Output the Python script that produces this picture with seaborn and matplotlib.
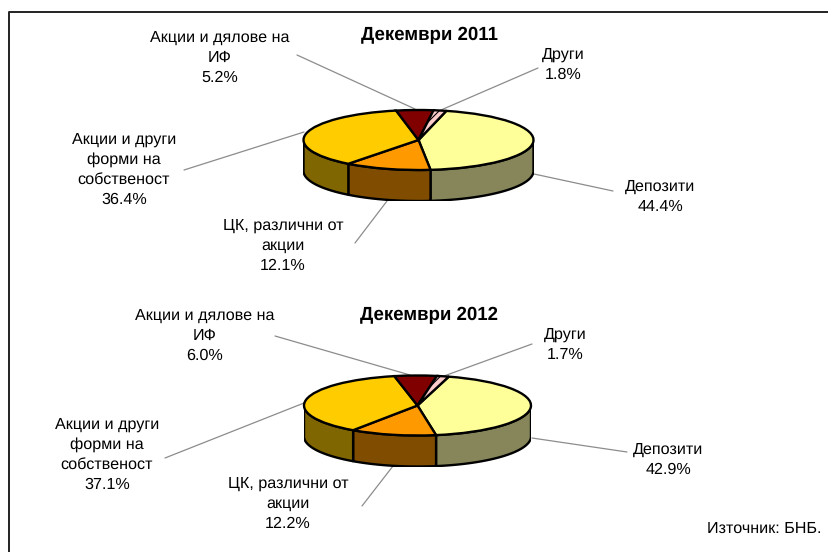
import numpy as np
import matplotlib
matplotlib.use("Agg")
import matplotlib.pyplot as plt
import seaborn as sns

W, H = 829, 552

# данни
segments = ["Депозити", "ЦК, различни от\nакции", "Акции и други\nформи на\nсобственост",
            "Акции и дялове на\nИФ", "Други"]
values_2011 = [44.4, 12.1, 36.4, 5.2, 1.8]
values_2012 = [42.9, 12.2, 37.1, 6.0, 1.7]
title_2011 = "Декември 2011"
title_2012 = "Декември 2012"
source = "Източник: БНБ."

top_colors = ["#FFFF99", "#FF9900", "#FFCC00", "#800000", "#FFCCCC"]
side_colors = ["#86865A", "#804D00", "#806600", "#400000", "#806666"]

sns.set_theme(style="white")
plt.rcParams['font.family'] = ['Liberation Sans', 'DejaVu Sans']
plt.rcParams['text.hinting'] = 'no_hinting'
plt.rcParams['hatch.linewidth'] = 0.8

fig = plt.figure(figsize=(W / 100, H / 100), dpi=100)
canvas = fig.add_axes([0, 0, 1, 1])
canvas.set_xlim(0, W)
canvas.set_ylim(H, 0)
canvas.axis("off")

# рамка (долу и вдясно е отрязана)
canvas.plot([9, 9, 829], [552, 12, 12], color="#222222", lw=1.4)


def draw_pie(vals, start, cx, cy, rx, ry, depth):
    # оста покрива елипсата + страничната стена, затова pie-то се сплесква от скалите
    ax = fig.add_axes([(cx - rx) / W, 1 - (cy + ry + depth) / H, 2 * rx / W, (2 * ry + depth) / H])
    ax.axis("off")
    d = depth / ry
    share = np.array(vals) / np.sum(vals) * 360
    edges = start + np.concatenate([[0], np.cumsum(share)])
    # странична стена - само видимата част (90..270 по часовника от горе)
    for i in range(len(vals)):
        a0, a1 = max(edges[i], 90), min(edges[i + 1], 270)
        if a1 <= a0:
            continue
        t = np.radians(np.linspace(a0, a1, 60))
        x, y = np.sin(t), np.cos(t)
        ax.fill(np.r_[x, x[::-1]], np.r_[y, y[::-1] - d], facecolor=side_colors[i],
                edgecolor="black", lw=1.7, joinstyle="round")
    wedges, _ = ax.pie(vals, colors=top_colors, startangle=90 - start, counterclock=False, radius=1,
                       wedgeprops=dict(edgecolor="black", linewidth=1.7))
    wedges[-1].set_hatch("////")
    ax.set_aspect("auto")
    ax.set_xlim(-1, 1)
    ax.set_ylim(-1 - d, 1)


draw_pie(values_2011, 14, 418.5, 140, 115, 30, 31)
draw_pie(values_2012, 16, 417.5, 405.5, 113.5, 30, 31)

# водещи линии
leaders = [
    ((297, 55), (415, 109)), ((538, 68), (441, 110)), ((304, 132), (184, 170)),
    ((387, 201), (355, 243)), ((534, 174), (613, 191)),
    ((275, 336), (410, 375)), ((532, 344), (444, 376)), ((304, 403), (165, 458)),
    ((393, 466), (362, 506)), ((532, 438), (627, 452)),
]
for p, q in leaders:
    canvas.plot([p[0], q[0]], [p[1], q[1]], color="#8C8C8C", lw=0.9, zorder=0)

fs = 11.6


def labels(vals, pos):
    for name, v, (x, y) in zip(segments, vals, pos):
        canvas.text(x, y, f"{name}\n{v:.1f}%", ha="center", va="center", fontsize=fs,
                    color="black", linespacing=1.45)


labels(values_2011, [(660, 197), (283, 246), (124, 170), (220, 58), (563, 65)])
labels(values_2012, [(668, 460), (288, 504), (107, 455), (205, 336), (565, 345)])

canvas.text(429, 35, title_2011, ha="center", va="center", fontsize=13.4, fontweight="bold", color="black")
canvas.text(429, 315, title_2012, ha="center", va="center", fontsize=13.4, fontweight="bold", color="black")
canvas.text(764, 529, source, ha="center", va="center", fontsize=fs, color="black")

fig.savefig("out.png", dpi=100, facecolor="white")
